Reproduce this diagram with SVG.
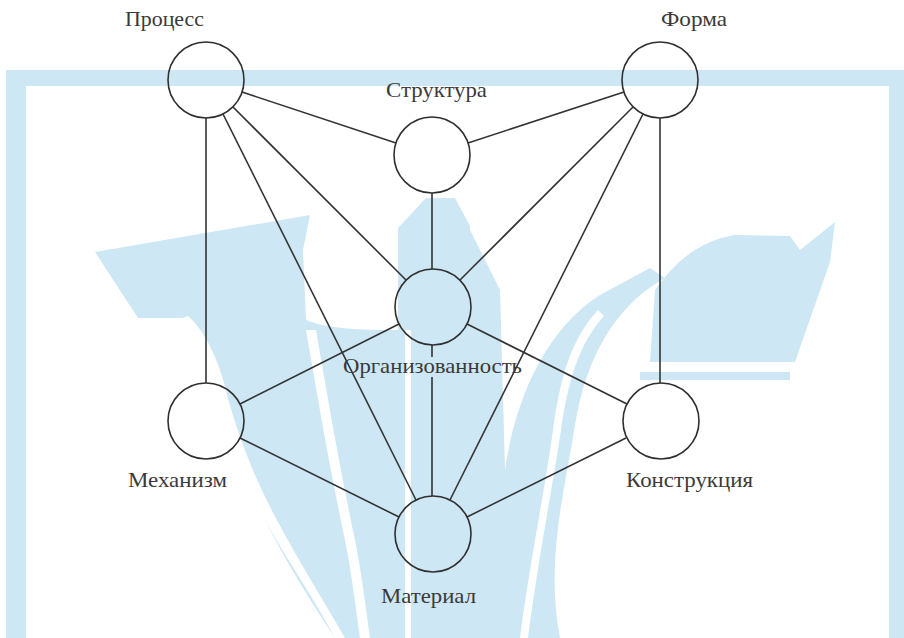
<svg xmlns="http://www.w3.org/2000/svg" width="904" height="638" viewBox="0 0 904 638">
<style>
.wm{fill:#cde7f4;stroke:none}
.wh{fill:#ffffff;stroke:none}
.node{fill:none;stroke:#2f2f2f;stroke-width:1.6}
.edge{stroke:#333333;stroke-width:1.6;fill:none}
.lbl{font-family:"Liberation Serif","Times New Roman",serif;font-size:21px;fill:#3a3a3a}
</style>
<rect x="0" y="0" width="904" height="638" fill="#ffffff"/>
<g id="watermark">
<rect class="wm" x="6" y="70" width="898" height="16"/>
<rect class="wm" x="6" y="70" width="20" height="568"/>
<rect class="wm" x="889" y="70" width="15" height="568"/>
<path class="wm" d="M95,252 L310,215 L303,250 L306,320 C330,330 370,330 398,330 L398,638 L335,638 C300,585 270,535 252,490 C232,440 216,385 200,340 L185,318 L138,318 Z"/>
<path class="wh" d="M178,320 C195,335 205,360 212,385 C225,435 245,485 268,525 C290,565 315,600 335,638 L345,638 C322,598 298,560 278,522 C255,480 236,432 224,383 C216,355 204,330 188,316 Z"/>
<path class="wh" d="M306,330 C318,400 330,470 345,540 C352,575 356,610 360,638 L370,638 C366,610 362,575 355,540 C340,470 328,400 316,330 Z"/>
<path class="wm" d="M398,228 L426,198 L455,198 L470,226 L470,638 L398,638 Z"/>
<rect class="wh" x="405" y="330" width="6" height="308"/>
<path class="wm" d="M470,230 L500,290 L505,470 C515,400 545,330 600,295 L650,268 L665,278 C615,305 585,360 575,425 C565,490 545,560 560,638 L470,638 Z"/>
<path class="wh" d="M598,310 C570,340 560,380 553,430 C545,490 530,560 520,638 L528,638 C538,560 552,490 561,430 C568,382 578,345 604,316 Z"/>
<path class="wm" d="M655,290 C680,255 705,240 735,235 L790,236 L800,250 L835,222 L830,262 L795,362 L650,362 Z"/>
<rect class="wm" x="640" y="372" width="150" height="8"/>
</g>
<g id="connectors">
<line class="edge" x1="242" y1="92" x2="396" y2="143"/>
<line class="edge" x1="233" y1="107" x2="406" y2="280"/>
<line class="edge" x1="223" y1="114" x2="416" y2="500"/>
<line class="edge" x1="206" y1="118" x2="206" y2="383"/>
<line class="edge" x1="624" y1="92" x2="468" y2="143"/>
<line class="edge" x1="633" y1="107" x2="460" y2="280"/>
<line class="edge" x1="643" y1="114" x2="450" y2="500"/>
<line class="edge" x1="660" y1="118" x2="660" y2="383"/>
<line class="edge" x1="432" y1="193" x2="432" y2="269"/>
<line class="edge" x1="399" y1="324" x2="240" y2="404"/>
<line class="edge" x1="467" y1="324" x2="627" y2="404"/>
<line class="edge" x1="432" y1="345" x2="432" y2="357"/>
<line class="edge" x1="432" y1="377" x2="432" y2="496"/>
<line class="edge" x1="240" y1="438" x2="399" y2="517"/>
<line class="edge" x1="626" y1="438" x2="467" y2="517"/>
</g>
<g id="n-process">
<circle class="node" cx="206" cy="80" r="38"/>
<text class="lbl" x="125" y="26" textLength="79" lengthAdjust="spacingAndGlyphs">Процесс</text>
</g>
<g id="n-forma">
<circle class="node" cx="660" cy="80" r="38"/>
<text class="lbl" x="661" y="26" textLength="66" lengthAdjust="spacingAndGlyphs">Форма</text>
</g>
<g id="n-struktura">
<circle class="node" cx="432" cy="155" r="38"/>
<text class="lbl" x="386" y="97" textLength="101" lengthAdjust="spacingAndGlyphs">Структура</text>
</g>
<g id="n-org">
<circle class="node" cx="433" cy="307" r="38"/>
<text class="lbl" x="343" y="373" textLength="179" lengthAdjust="spacingAndGlyphs">Организованность</text>
</g>
<g id="n-mech">
<circle class="node" cx="206" cy="421" r="38"/>
<text class="lbl" x="128" y="487" textLength="99" lengthAdjust="spacingAndGlyphs">Механизм</text>
</g>
<g id="n-konstr">
<circle class="node" cx="661" cy="421" r="38"/>
<text class="lbl" x="626" y="487" textLength="127" lengthAdjust="spacingAndGlyphs">Конструкция</text>
</g>
<g id="n-material">
<circle class="node" cx="433" cy="534" r="38"/>
<text class="lbl" x="381" y="603" textLength="95" lengthAdjust="spacingAndGlyphs">Материал</text>
</g>
</svg>
